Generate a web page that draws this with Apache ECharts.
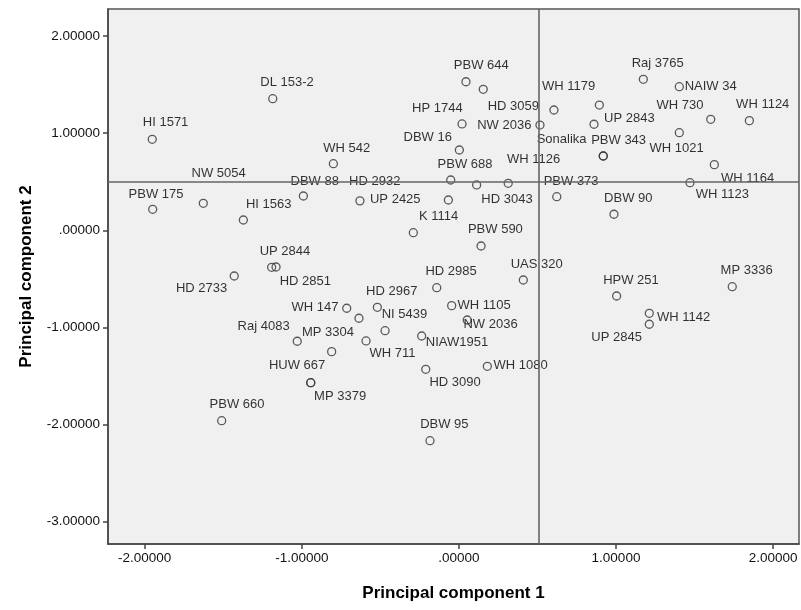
<!DOCTYPE html>
<html>
<head>
<meta charset="utf-8">
<script src="https://cdn.jsdelivr.net/npm/echarts@6/dist/echarts.min.js"></script>
<style>
html, body { margin: 0; padding: 0; background: #fff; }
#main { width: 801px; height: 610px; }
</style>
</head>
<body>
<div id="main"></div>
<script>
// variety names (empty = unlabelled point)
var names = ['HI 1571','DL 153-2','WH 542','NW 5054','PBW 175','HI 1563','DBW 88','HD 2932','UP 2425','K 1114',
    'UP 2844','HD 2851','HD 2733','WH 147','HD 2967','','NI 5439','WH 711','MP 3304','Raj 4083',
    'HUW 667','MP 3379','PBW 660','PBW 644','','HP 1744','DBW 16','HD 3059','NW 2036','PBW 688',
    'HD 3043','WH 1126','PBW 590','HD 2985','UAS 320','WH 1105','NW 2036','NIAW1951','HD 3090','WH 1080',
    'DBW 95','WH 1179','Raj 3765','NAIW 34','WH 730','WH 1124','UP 2843','PBW 343','Sonalika','WH 1021',
    'WH 1164','WH 1123','PBW 373','DBW 90','HPW 251','MP 3336','WH 1142','UP 2845'];

var pc1 = [-1.952,-1.185,-0.799,-1.627,-1.949,-1.372,-0.990,-0.067,-0.630,-0.290,
    -1.192,-1.164,-1.430,-0.714,-0.519,-0.636,-0.470,-0.591,-0.810,-1.029,
    -0.943,-0.943,-1.510,0.045,0.155,0.020,0.003,0.605,0.516,-0.052,
    0.113,0.314,0.141,-0.141,0.410,-0.046,0.053,-0.237,-0.211,0.181,
    -0.184,0.894,1.174,1.403,1.603,1.849,0.860,0.919,0.919,1.403,
    1.626,1.471,0.623,0.987,1.004,1.740,1.212,1.212];

var pc2 = [0.937,1.355,0.686,0.278,0.216,0.106,0.353,0.312,0.303,-0.025,
    -0.381,-0.378,-0.471,-0.803,-0.793,-0.906,-1.034,-1.140,-1.250,-1.143,
    -1.570,-1.570,-1.961,1.530,1.452,1.095,0.827,1.239,1.084,0.518,
    0.467,0.484,-0.162,-0.591,-0.512,-0.776,-0.924,-1.089,-1.432,-1.401,
    -2.167,1.290,1.555,1.479,1.143,1.129,1.092,0.765,0.765,1.005,
    0.676,0.490,0.346,0.165,-0.677,-0.581,-0.855,-0.968];

// where each point label sits, pixels from the point centre
var labelOffset = [[14,-16],[15,-16],[14,-15],[16,-29],[4,-14],[26,-15],[12,-14],[-73,-18],[36,-1],[26,-16],
    [14,-15],[30,15],[-32,13],[-31,0],[15,-15],[0,0],[20,-16],[27,13],[-3,-19],[-33,-14],
    [-13,-17],[30,14],[16,-16],[16,-16],[0,0],[-24,-15],[-31,-12],[-40,-3],[-35,1],[15,-15],
    [31,15],[26,-23],[15,-16],[15,-16],[14,-15],[33,0],[24,5],[36,7],[30,14],[34,0],
    [15,-16],[-30,-18],[15,-15],[32,0],[-30,-13],[14,-16],[36,-5],[16,-15],[-41,-16],[-2,16],
    [34,14],[33,12],[15,-15],[15,-15],[15,-15],[15,-16],[35,5],[-32,14]];

var xTicks = [-2, -1, 0, 1, 2];
var yTicks = [2, 1, 0, -1, -2, -3];
var refX = 0.513;
var refY = 0.497;

var symSize = 8;

function fmt(v) {
    var s = Math.abs(v).toFixed(5);
    if (Math.abs(v) < 1) s = s.slice(1);
    return (v < 0 ? '-' : '') + s;
}

var chart = echarts.init(document.getElementById('main'));

var points = names.map(function (n, i) {
    var o = labelOffset[i];
    return {
        name: n,
        value: [pc1[i], pc2[i]],
        label: { position: [symSize / 2 + o[0], symSize / 2 + o[1]] }
    };
});

var option = {
    animation: false,
    textStyle: { fontFamily: 'Liberation Sans, Arial, sans-serif' },
    grid: {
        left: 108, top: 9, width: 691, height: 535,
        show: true, backgroundColor: '#f0f0f0', borderColor: '#555', borderWidth: 1.5
    },
    xAxis: {
        type: 'value', min: -2.2336, max: 2.1649,
        name: 'Principal component 1', nameLocation: 'middle', nameGap: 41,
        nameTextStyle: { fontSize: 17, fontWeight: 'bold', color: '#000' },
        axisLine: { show: true, onZero: false, lineStyle: { color: '#444', width: 1.5 } },
        axisTick: { show: true, length: 5, customValues: xTicks, lineStyle: { color: '#444', width: 1.5 } },
        axisLabel: { customValues: xTicks, formatter: fmt, fontSize: 13.5, color: '#111', margin: 7 },
        splitLine: { show: false }
    },
    yAxis: {
        type: 'value', min: -3.231, max: 2.279,
        name: 'Principal component 2', nameLocation: 'middle', nameGap: 73,
        nameTextStyle: { fontSize: 17, fontWeight: 'bold', color: '#000' },
        axisLine: { show: true, onZero: false, lineStyle: { color: '#444', width: 1.5 } },
        axisTick: { show: true, length: 5, customValues: yTicks, lineStyle: { color: '#444', width: 1.5 } },
        axisLabel: { customValues: yTicks, formatter: fmt, fontSize: 13.5, color: '#111', margin: 8 },
        splitLine: { show: false }
    },
    series: [{
        type: 'scatter',
        symbol: 'circle',
        symbolSize: symSize,
        itemStyle: { color: 'rgba(0,0,0,0)', borderColor: '#333', borderWidth: 1.3 },
        label: {
            show: true, formatter: '{b}',
            fontSize: 13, color: '#000', align: 'center', verticalAlign: 'middle'
        },
        labelLayout: { hideOverlap: false },
        data: points,
        markLine: {
            silent: true,
            symbol: ['none', 'none'],
            label: { show: false },
            lineStyle: { color: '#666', width: 1.6, type: 'solid' },
            data: [{ xAxis: refX }, { yAxis: refY }]
        }
    }]
};

chart.setOption(option);
</script>
</body>
</html>
